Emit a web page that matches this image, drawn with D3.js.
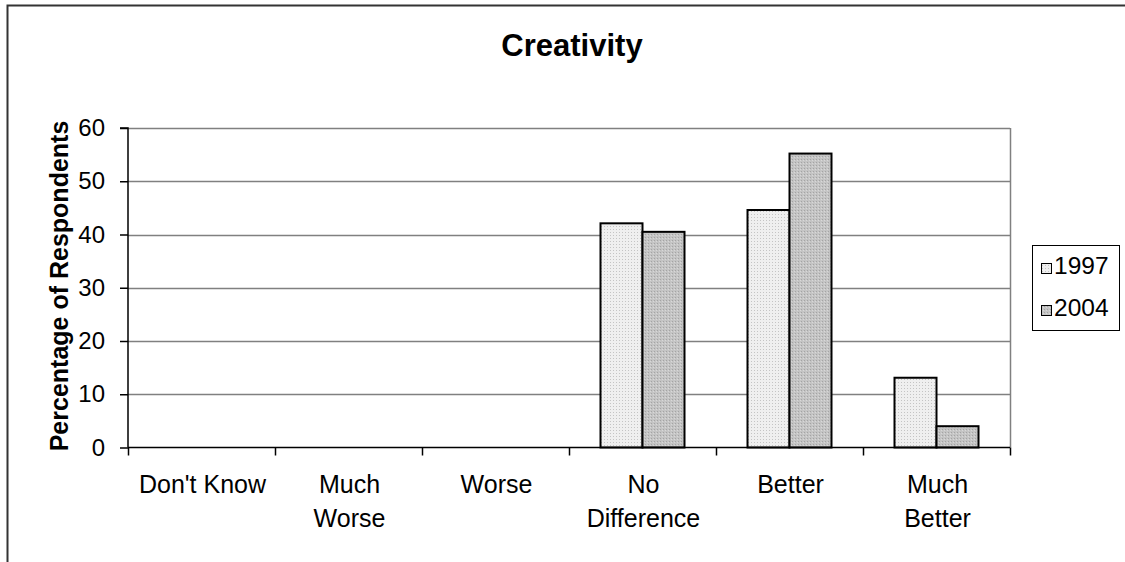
<!DOCTYPE html>
<html><head><meta charset="utf-8">
<script src="https://cdn.jsdelivr.net/npm/d3@7"></script>
<style>body{margin:0;background:#fff}svg{display:block;font-family:"Liberation Sans",Arial,sans-serif}</style>
</head><body>
<script>
const categories = [["Don't Know"], ["Much","Worse"], ["Worse"], ["No","Difference"], ["Better"], ["Much","Better"]];
const seriesNames = ["1997", "2004"];
const values1997 = [0, 0, 0, 42.1, 44.6, 13.1];
const values2004 = [0, 0, 0, 40.5, 55.2, 4.0];
const yTicks = [0, 10, 20, 30, 40, 50, 60];

const W = 1125, H = 562;
const svg = d3.select("body").append("svg").attr("width", W).attr("height", H);
const defs = svg.append("defs");
const p1 = defs.append("pattern").attr("id","p1997").attr("patternUnits","userSpaceOnUse").attr("width",3).attr("height",3);
p1.append("rect").attr("width",3).attr("height",3).attr("fill","#efefef");
p1.append("rect").attr("x",1).attr("y",1).attr("width",1).attr("height",1).attr("fill","#c4c4c4");
const p2 = defs.append("pattern").attr("id","p2004").attr("patternUnits","userSpaceOnUse").attr("width",3).attr("height",3);
p2.append("rect").attr("width",3).attr("height",3).attr("fill","#c4c4c4");
p2.append("rect").attr("x",0).attr("y",0).attr("width",1).attr("height",1).attr("fill","#a4a4a4");
p2.append("rect").attr("x",2).attr("y",1).attr("width",1).attr("height",1).attr("fill","#d8d8d8");
const fills = ["url(#p1997)", "url(#p2004)"];

// outer border
svg.append("rect").attr("x",7.5).attr("y",5.5).attr("width",1200).attr("height",600)
  .attr("fill","none").attr("stroke","#333").attr("stroke-width",2);

const L = 128, R = 1010, T = 128, B = 447.5;
const x = d3.scaleBand().domain(d3.range(categories.length)).range([L, R]);
const xs = d3.scaleBand().domain(seriesNames).range([0, x.bandwidth()]).paddingInner(0).paddingOuter(0.75);
const y = d3.scaleLinear().domain([0, 60]).range([B, T]);

// gridlines
svg.append("g").selectAll("line").data(yTicks.filter(d=>d>0)).join("line")
  .attr("x1", L).attr("x2", R).attr("y1", d=>Math.round(y(d))+0.5).attr("y2", d=>Math.round(y(d))+0.5)
  .attr("stroke","#808080").attr("stroke-width",1.5);
// right border of plot
svg.append("line").attr("x1",R+0.5).attr("x2",R+0.5).attr("y1",T).attr("y2",B).attr("stroke","#808080").attr("stroke-width",1.5);

// bars
const data = [];
categories.forEach((c,i)=>{
  [values1997, values2004].forEach((arr,j)=>{ if(arr[i]>0) data.push({i, s: seriesNames[j], j, v: arr[i]}); });
});
svg.append("g").selectAll("rect").data(data).join("rect")
  .attr("x", d=>x(d.i)+xs(d.s)).attr("width", xs.bandwidth())
  .attr("y", d=>y(d.v)).attr("height", d=>B - y(d.v))
  .attr("fill", d=>fills[d.j]).attr("stroke","#000").attr("stroke-width",2);

// y axis
const yAxis = d3.axisLeft(y).tickValues(yTicks).tickSize(8).tickPadding(15);
const gy = svg.append("g").attr("transform",`translate(${L},0)`).call(yAxis);
gy.select(".domain").attr("stroke","#000").attr("stroke-width",1.5).attr("d",`M-8,${T}H0V${B}`);
gy.selectAll(".tick line").attr("stroke","#000").attr("stroke-width",1.5);
gy.selectAll("text").attr("font-size",24).attr("fill","#000").attr("font-family","Liberation Sans, Arial, sans-serif");

// x axis
const xAxis = d3.axisBottom(x).tickFormat("").tickSize(0);
const gx = svg.append("g").attr("transform",`translate(0,${B})`).call(xAxis);
gx.select(".domain").attr("stroke","#000").attr("stroke-width",1.5).attr("d",`M${L},0H${R}`);
// category tick marks at boundaries
svg.append("g").selectAll("line").data(d3.range(categories.length+1)).join("line")
  .attr("x1", d=>Math.round(L + d*x.step())+0.5).attr("x2", d=>Math.round(L + d*x.step())+0.5)
  .attr("y1", B).attr("y2", B+8).attr("stroke","#000").attr("stroke-width",1.5);
// category labels
const lbl = svg.append("g").selectAll("text").data(categories).join("text")
  .attr("text-anchor","middle").attr("font-size",25).attr("fill","#000")
  .attr("transform",(d,i)=>`translate(${x(i)+x.bandwidth()/2+1},493)`);
lbl.selectAll("tspan").data(d=>d).join("tspan").attr("x",0).attr("dy",(d,k)=>k===0?0:34).text(d=>d);

// title
svg.append("text").attr("x",572).attr("y",56).attr("text-anchor","middle")
  .attr("font-size",31).attr("font-weight","bold").text("Creativity");
// y title
svg.append("text").attr("transform",`translate(68,286) rotate(-90)`).attr("text-anchor","middle")
  .attr("font-size",25).attr("font-weight","bold").text("Percentage of Respondents");

// legend
const lg = svg.append("g");
lg.append("rect").attr("x",1032.5).attr("y",245.5).attr("width",87).attr("height",85)
  .attr("fill","#fff").attr("stroke","#000").attr("stroke-width",1);
seriesNames.forEach((s,j)=>{
  const base = 274 + j*42;
  lg.append("rect").attr("x",1041.5).attr("y",base-10.5).attr("width",10).attr("height",10)
    .attr("fill",fills[j]).attr("stroke","#000").attr("stroke-width",1);
  lg.append("text").attr("x",1054).attr("y",base).attr("font-size",24.5).text(s);
});
</script>
</body></html>
